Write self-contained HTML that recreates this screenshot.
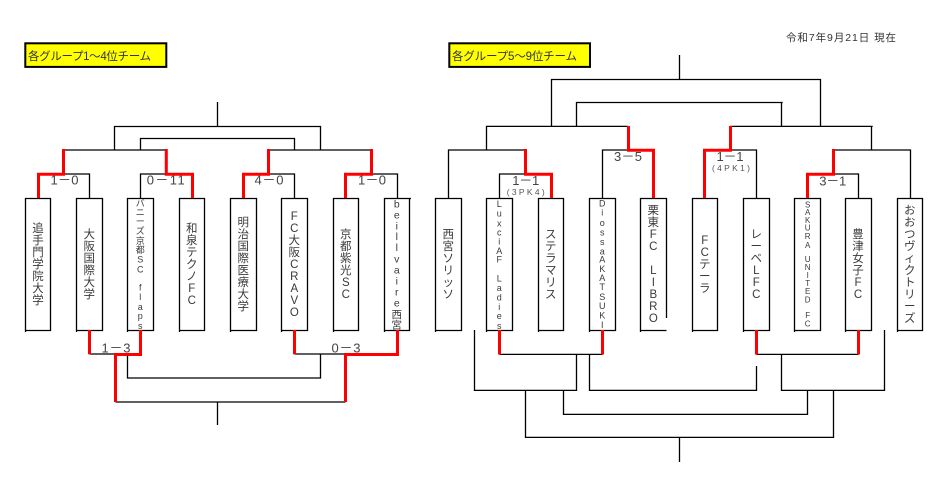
<!DOCTYPE html>
<html lang="ja">
<head>
<meta charset="utf-8">
<title>トーナメント表</title>
<style>
html,body{margin:0;padding:0;background:#fff;width:936px;height:477px;overflow:hidden}
svg{display:block;position:absolute;left:0;top:0}
text{font-family:"Liberation Sans","Noto Sans CJK JP",sans-serif;fill:#3a3a3a}
.k{fill:none;stroke:#000;stroke-width:1.3}
.r{fill:none;stroke:#f00;stroke-width:3}
.v{font-size:11.5px;text-anchor:middle}
.s{font-size:9px;text-anchor:middle}
.t{font-size:8px;text-anchor:middle}
.m{font-size:10.5px;text-anchor:middle}
.c{font-size:13px;text-anchor:middle;fill:#444}
.p{font-size:8.5px;text-anchor:middle;fill:#555}
</style>
</head>
<body>
<svg width="936" height="477" viewBox="0 0 936 477" xmlns="http://www.w3.org/2000/svg">
<rect x="25.3" y="43.3" width="141" height="23.6" fill="#ff0" stroke="#000" stroke-width="2"/>
<rect x="449.3" y="43.3" width="140.7" height="23.6" fill="#ff0" stroke="#000" stroke-width="2"/>
<text x="28" y="60" font-size="11.5" textLength="123" style="fill:#333">各グループ1～4位チーム</text>
<text x="452" y="60" font-size="11.5" textLength="125" style="fill:#333">各グループ5～9位チーム</text>
<text x="786" y="41" font-size="10.5" textLength="110" style="fill:#333">令和7年9月21日 現在</text>

<!-- left bracket black -->
<path class="k" d="M217.5 102V126.5M114.5 150V126.5H320.5V150M140.5 150V138.5H294.5V150M63.5 150H166M268.5 150H371.5M63.5 174H89.5V198M140.5 198V174H166M268.5 174H294.5V198M371.5 174H397.5V198M89.5 354H115.5M127.5 354V378H320.5V354M294.5 354H345.5M115.5 402H345.5M217.5 402V425"/>

<!-- right bracket black -->
<path class="k" d="M679.5 55V79.5M551.5 126V79.5H820.5V126M576.5 126V102.5H782.7M781.5 102.5V126M486.5 150V126.4H628M730 126.4H872.7M871.5 126V150M448.5 198V150H525.5M499.5 198V174H525.5M602.5 198V150H628.5M730 150H756.5V198M833.5 150H910.5V198M833.5 174H858.5V198M499.5 354.4H602.5M756.5 354.4H858.5M576.5 354V390.4H474.5V330M589.5 354V390.4H756.5V366M781.5 354V390.4H884.5V330M525.5 390V437.4H833.5V390M563.5 390V414.4H807.5V390M679.5 437V462"/>

<!-- boxes -->
<g fill="#fff" stroke="#000" stroke-width="1.3">
<path d="M25.5 332V198.5H50.5V330.5H25.5"/>
<path d="M76.5 332V198.5H102.5V330.5H76.5"/>
<path d="M127.5 332V198.5H153.5V330.5H127.5"/>
<path d="M179.5 332V198.5H204.5V330.5H179.5"/>
<path d="M230.5 332V198.5H256.5V330.5H230.5"/>
<path d="M281.5 332V198.5H307.5V330.5H281.5"/>
<path d="M333.5 332V198.5H358.5V330.5H333.5"/>
<path d="M384.5 332V198.5H411M409.5 198.5V330.5H384.5"/>
<path d="M435.5 332V198.5H461.5V330.5H435.5"/>
<path d="M486.5 332V198.5H512.5V330.5H486.5"/>
<path d="M538.5 332V198.5H563.5V330.5H538.5"/>
<path d="M589.5 332V198.5H615.5V330.5H589.5"/>
<path d="M640.5 332V198.5H666.5V318M640.5 330.5H666.5" />
<path d="M692.5 332V198.5H717.5V330.5H692.5"/>
<path d="M743.5 332V198.5H769.5V330.5H743.5"/>
<path d="M794.5 332V198.5H820.5V330.5H794.5"/>
<path d="M845.5 332V198.5H871.5V330.5H845.5"/>
<path d="M897.5 332V198.5H922.5V330.5H897.5"/>
</g>

<!-- red winners -->
<path class="r" d="M63.5 149V174.3H38.5V198M166.3 149V174.3H192.5V198M268.5 149V174.3H243.5V198M371.5 149V174.3H345.5V198"/>
<path class="r" d="M89.5 330V354.3M140.5 330V354.5H115.5V402M294.5 330V354.3M397.5 330V354.5H345.5V402"/>
<path class="r" d="M525.5 149V174.3H551.5V198M628.5 126V150.3H653.5V198M730.5 126V150.3H704.5V198M833.5 149V174.3H807.5V198"/>
<path class="r" d="M499.5 330V354.5M602.5 330V354.5M756.5 330V354.5M858.5 330V354.5"/>

<!-- scores -->
<text class="c" x="64.5" y="184.5" textLength="28">1－0</text>
<text class="c" x="165.7" y="184.5" textLength="38">0－11</text>
<text class="c" x="269" y="184.5" textLength="29">4－0</text>
<text class="c" x="372" y="184.5" textLength="28">1－0</text>
<text class="c" x="116" y="352.5" textLength="29">1－3</text>
<text class="c" x="346" y="352.5" textLength="29">0－3</text>
<text class="c" x="525.7" y="185" textLength="27">1－1</text>
<text class="p" x="525.7" y="195" textLength="38">(3PK4)</text>
<text class="c" x="628" y="161" textLength="28">3－5</text>
<text class="c" x="730" y="161" textLength="27">1－1</text>
<text class="p" x="731" y="171" textLength="38">(4PK1)</text>
<text class="c" x="832.7" y="185.5" textLength="27">3－1</text>

<!-- team names -->
<text class="v" x="38 38 38 38 38 38 38" y="232 244 256 268 280 292 304">追手門学院大学</text>
<text class="v" x="89.3 89.3 89.3 89.3 89.3 89.3" y="238 250 262 274 286 298">大阪国際大学</text>
<text class="s" x="140.3 140.3 140.3 140.3 140.3 140.3 140.3 140.3 140.3 140.3 140.3 140.3 140.3" y="206.5 215.5 224.5 234 244 253 262.5 272.5 290.5 300 310 319 329">バニーズ京都SCflaps</text>
<text class="v" x="191.8 191.8 191.8 191.8 191.8 191.8 191.8" y="232 244 256 268 280 292 304">和泉テクノFC</text>
<text class="v" x="243.3 243.3 243.3 243.3 243.3 243.3 243.3 243.3" y="226 238 250 262 274 286 298 310">明治国際医療大学</text>
<text class="v" x="294.3 294.3 294.3 294.3 294.3 294.3 294.3 294.3 294.3" y="220 232 244 256 268 280 292 304 316">FC大阪CRAVO</text>
<text class="v" x="345.8 345.8 345.8 345.8 345.8 345.8" y="238 250 262 274 286 298">京都紫光SC</text>
<text class="m" x="396.8 396.8 396.8 396.8 396.8 396.8 396.8 396.8 396.8 396.8 396.8 396.8" y="207.5 218.5 229.5 240 251 262.5 273.5 284.5 295.5 306.5 318 328.5">beillvaire西宮</text>

<text class="v" x="448.3 448.3 448.3 448.3 448.3 448.3" y="238 250 262 274 286 298">西宮ソリッソ</text>
<text class="s" x="499.3 499.3 499.3 499.3 499.3 499.3 499.3 499.3 499.3 499.3 499.3 499.3 499.3" y="207 216.5 226.5 235.5 244.5 254 262.5 281.5 291 300.5 310 319 329">LuxciAFLadies</text>
<text class="v" x="550.8 550.8 550.8 550.8 550.8 550.8" y="238 250 262 274 286 298">ステラマリス</text>
<text class="s" x="602.3 602.3 602.3 602.3 602.3 602.3 602.3 602.3 602.3 602.3 602.3 602.3 602.3 602.3" y="206.5 215.5 226 235.5 245 254.5 262.5 272 281 290 300 309 318.5 328">DiossaAKATSUKI</text>
<text class="v" x="653.3 653.3 653.3 653.3 653.3 653.3 653.3 653.3 653.3" y="214 226 238 250 274 286 298 310 322">栗東FCLIBRO</text>
<text class="v" x="704.8 704.8 704.8 704.8 704.8" y="244 256 268 280 292">FCテーラ</text>
<text class="v" x="756.3 756.3 756.3 756.3 756.3 756.3" y="238 250 262 274 286 298">レーベLFC</text>
<text class="t" x="807.7 807.7 807.7 807.7 807.7 807.7 807.7 807.7 807.7 807.7 807.7 807.7 807.7 807.7" y="207.5 215 223 230.5 239 248 262 270 278 286 294 302.5 318 326.5">SAKURAUNITEDFC</text>
<text class="v" x="858 858 858 858 858 858" y="238 250 262 274 286 298">豊津女子FC</text>
<text class="v" x="909.7 909.7 909.7 909.7 909.7 909.7 909.7 909.7 909.7 909.7" y="214 226 238 250 262 274 286 298 310 322">おおつヴィクトリーズ</text>
</svg>
</body>
</html>
